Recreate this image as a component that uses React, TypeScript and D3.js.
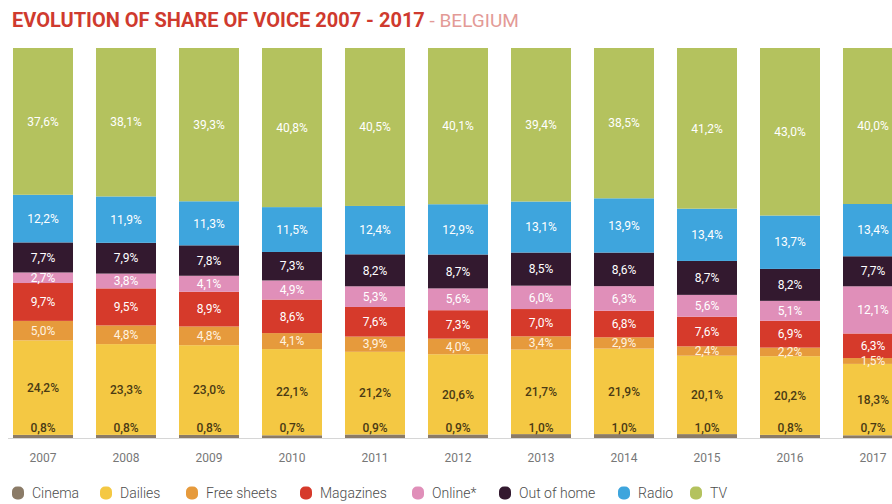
import React from "react";
import * as d3 from "d3";

const years = ["2007","2008","2009","2010","2011","2012","2013","2014","2015","2016","2017"];
const seriesNames = ["Cinema","Dailies","Free sheets","Magazines","Online*","Out of home","Radio","TV"];
const cinema = [0.8,0.8,0.8,0.7,0.9,0.9,1.0,1.0,1.0,0.8,0.7];
const dailies = [24.2,23.3,23.0,22.1,21.2,20.6,21.7,21.9,20.1,20.2,18.3];
const freeSheets = [5.0,4.8,4.8,4.1,3.9,4.0,3.4,2.9,2.4,2.2,1.5];
const magazines = [9.7,9.5,8.9,8.6,7.6,7.3,7.0,6.8,7.6,6.9,6.3];
const online = [2.7,3.8,4.1,4.9,5.3,5.6,6.0,6.3,5.6,5.1,12.1];
const outOfHome = [7.7,7.9,7.8,7.3,8.2,8.7,8.5,8.6,8.7,8.2,7.7];
const radio = [12.2,11.9,11.3,11.5,12.4,12.9,13.1,13.9,13.4,13.7,13.4];
const tv = [37.6,38.1,39.3,40.8,40.5,40.1,39.4,38.5,41.2,43.0,40.0];

const seriesValues = [cinema, dailies, freeSheets, magazines, online, outOfHome, radio, tv];
const colors = ["#8b7b67","#f4c843","#e69a3c","#d63a2b","#e08fb9","#33192f","#3ea5dd","#b4c25e"];
const labelColors = ["#4a3a14","#4a3a14","#fff3e0","#ffffff","#ffffff","#ffffff","#ffffff","#ffffff"];

const W = 892, H = 504;
const barTop = 48, barBottom = 438;

export default function App() {
  const rows = years.map((y, i) => {
    const r: any = { year: y };
    seriesNames.forEach((s, k) => (r[s] = seriesValues[k][i]));
    return r;
  });
  const stack = d3.stack<any>().keys(seriesNames).offset(d3.stackOffsetExpand);
  const layers = stack(rows);

  const x = d3.scaleBand().domain(years).range([1.5, 914.5]).paddingInner(23 / 83).paddingOuter(23 / 166);
  const y = d3.scaleLinear().domain([0, 1]).range([barBottom, barTop]);

  const fmt = (v: number) => v.toFixed(1).replace(".", ",") + "%";
  const legendX = [18, 106, 192, 306, 418, 505, 624, 696];
  const font = "Roboto, 'Open Sans', sans-serif";

  return (
    <svg width={W} height={H} style={{ position: "absolute", left: 0, top: 0, background: "#fff" }}>
      <text x={12} y={27} fontFamily={font} fontSize={20} fontWeight={700} fill="#cf3a2e">
        EVOLUTION OF SHARE OF VOICE 2007 - 2017
        <tspan fontWeight={400} fontSize={19} fill="#e39a96"> - BELGIUM</tspan>
      </text>
      <line x1={8} x2={W} y1={barBottom + 0.5} y2={barBottom + 0.5} stroke="#d6d6d6" strokeWidth={1} />
      {layers.map((layer, k) => (
        <g key={layer.key}>
          {layer.map((d, i) => (
            <rect
              key={i}
              x={x(years[i])}
              width={x.bandwidth()}
              y={y(d[1])}
              height={y(d[0]) - y(d[1])}
              fill={colors[k]}
            />
          ))}
        </g>
      ))}
      {layers.map((layer, k) => (
        <g key={"l" + layer.key}>
          {layer.map((d, i) => {
            const cx = (x(years[i]) as number) + x.bandwidth() / 2;
            const cy = k === 0 ? barBottom - 10 : (y(d[0]) + y(d[1])) / 2;
            return (
              <text
                key={i}
                x={cx}
                y={cy}
                dy="0.35em"
                textAnchor="middle"
                fontFamily={font}
                fontSize={12}
                fontWeight={k <= 1 ? 500 : 400}
                fill={labelColors[k]}
              >
                {fmt(seriesValues[k][i])}
              </text>
            );
          })}
        </g>
      ))}
      {years.map((yr) => (
        <text
          key={yr}
          x={(x(yr) as number) + x.bandwidth() / 2}
          y={462}
          textAnchor="middle"
          fontFamily={font}
          fontSize={12}
          fill="#777"
        >
          {yr}
        </text>
      ))}
      {seriesNames.map((s, k) => (
        <g key={s} transform={`translate(${legendX[k]},493)`}>
          <rect x={-6} y={-6.5} width={12} height={13} rx={5} fill={colors[k]} />
          <text x={14} dy="0.35em" fontFamily={font} fontSize={14} fontWeight={300} fill="#4d4d4d">
            {s}
          </text>
        </g>
      ))}
    </svg>
  );
}
